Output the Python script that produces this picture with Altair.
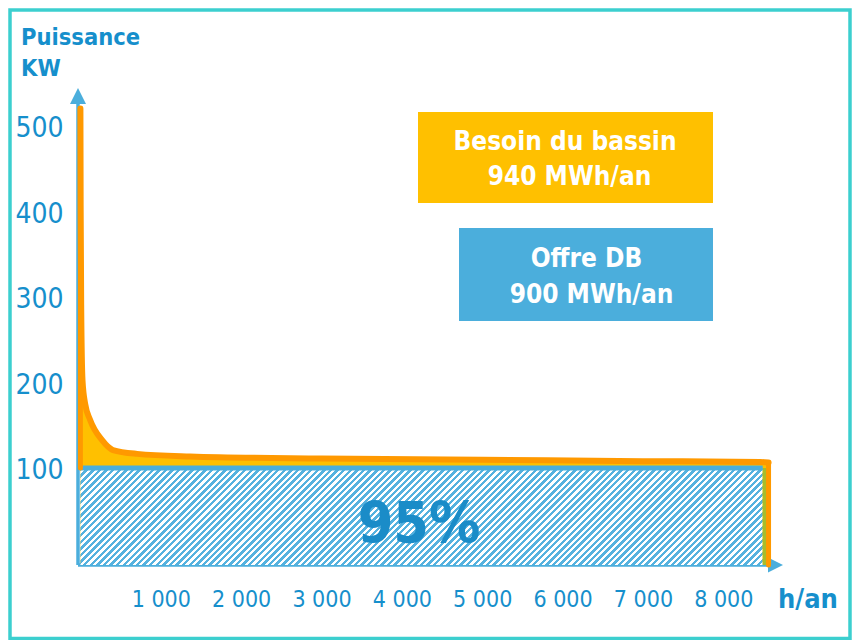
import altair as alt
import pandas as pd

# ---------------- data ----------------
hours = [0, 3, 10, 26, 60, 120, 270, 405, 705, 1364, 3000, 5000, 7000, 8460, 8563]
besoin_kw = [534, 420, 300, 216, 188, 170, 146, 134.5, 130, 127, 124.5, 123, 121.5, 120.5, 120]
offre_kw = 113.5
offre_fin_h = 8490
x_ticks = [1000, 2000, 3000, 4000, 5000, 6000, 7000, 8000]
y_ticks = [100, 200, 300, 400, 500]
y_title = ["Puissance", "KW"]
x_title = "h/an"
box_besoin = ["Besoin du bassin", "940 MWh/an"]
box_offre = ["Offre DB", "900 MWh/an"]
part_label = "95%"

# ---------------- styles ----------------
FONT = "DejaVu Sans Condensed"
BLUE = "#4BAEDC"
TXT_BLUE = "#168FCC"
ORANGE = "#FF9900"
YELLOW = "#FFC000"
GREEN = "#A8BD2A"
TEAL = "#3CCFCF"

W, H = 712, 477
x_dom = [-30, 8830]
y_dom = [0, 558]
kx = W / (x_dom[1] - x_dom[0])
ky = H / (y_dom[1] - y_dom[0])

xs = alt.Scale(domain=x_dom, nice=False, zero=False)
ys = alt.Scale(domain=y_dom, nice=False, zero=False)
x_axis = alt.Axis(values=x_ticks, domain=False, ticks=False, grid=False, title=None,
                  labelExpr="replace(format(datum.value, ',d'), ',', ' ')",
                  labelFont=FONT, labelFontSize=23, labelColor=TXT_BLUE, labelPadding=23)
y_axis = alt.Axis(values=y_ticks, domain=False, ticks=False, grid=False, title=None,
                  labelFont=FONT, labelFontSize=28, labelColor=TXT_BLUE, labelPadding=15,
                  labelOffset=-9)

curve_df = pd.DataFrame({"h": hours, "kw": besoin_kw})
edges_df = pd.DataFrame({
    "h": [hours[0], hours[-1]],
    "k0": [offre_kw, 0],
    "k1": [besoin_kw[0], besoin_kw[-1]],
})
offre_df = pd.DataFrame({"h0": [0], "h1": [offre_fin_h], "k0": [0], "k1": [offre_kw]})
vert_df = pd.DataFrame({"h0": [offre_fin_h], "h1": [hours[-1]], "k0": [0], "k1": [offre_kw]})
dummy = pd.DataFrame({"a": [0]})

# hatch as a striped linear gradient (45 degree stripes)
rw = offre_fin_h * kx
rh = offre_kw * ky
a = (rw + rh) / (rw ** 2 + rh ** 2)
n = int(round((rw + rh) / 6.6))
stops = []
for i in range(n):
    stops += [
        {"offset": round(i / n, 6), "color": "#55B2DF"},
        {"offset": round((i + 0.52) / n, 6), "color": "#55B2DF"},
        {"offset": round((i + 0.52) / n, 6), "color": "#FFFFFF"},
        {"offset": round((i + 1) / n, 6), "color": "#FFFFFF"},
    ]
hatch_fill = {"gradient": "linear", "x1": 0, "y1": 0, "x2": a * rw, "y2": a * rh, "stops": stops}

base = alt.Chart(dummy)

border = base.mark_rect(fill=None, stroke=TEAL, strokeWidth=3.5).encode(
    x=alt.value(-68), x2=alt.value(772), y=alt.value(-78), y2=alt.value(550.5))

area = alt.Chart(curve_df).mark_area(color=YELLOW, interpolate="monotone").encode(
    x=alt.X("h:Q", scale=xs, axis=x_axis),
    y=alt.Y("kw:Q", scale=ys, axis=y_axis))

y_line = base.mark_rule(color=BLUE, strokeWidth=3.5).encode(
    x=alt.value(0), y=alt.value(12), y2=alt.value(H))
y_arrow = base.mark_point(shape="M-1,1L0,-1L1,1Z", size=256, filled=True, opacity=1,
                          color=BLUE, strokeWidth=0).encode(x=alt.value(0), y=alt.value(8))
x_line = base.mark_rule(color=BLUE, strokeWidth=3.5).encode(
    x=alt.value(0), x2=alt.value(692), y=alt.value(H))
x_arrow = base.mark_point(shape="M-1,-1L1,0L-1,1Z", size=225, filled=True, opacity=1,
                          color=BLUE, strokeWidth=0).encode(x=alt.value(697.5), y=alt.value(H))

hatch = alt.Chart(offre_df).mark_rect(fill=hatch_fill).encode(
    x=alt.X("h0:Q", scale=xs, axis=x_axis), x2="h1:Q",
    y=alt.Y("k0:Q", scale=ys, axis=y_axis), y2="k1:Q")
green = alt.Chart(vert_df).mark_rect(color=GREEN).encode(
    x=alt.X("h0:Q", scale=xs, axis=x_axis), x2="h1:Q",
    y=alt.Y("k0:Q", scale=ys, axis=y_axis), y2="k1:Q")
offre_line = alt.Chart(offre_df).mark_rule(color=BLUE, strokeWidth=5).encode(
    x=alt.X("h0:Q", scale=xs, axis=x_axis), x2="h1:Q",
    y=alt.Y("k1:Q", scale=ys, axis=y_axis))
besoin_line = alt.Chart(curve_df).mark_line(color=ORANGE, strokeWidth=6, interpolate="monotone",
                                             strokeCap="round", strokeJoin="round").encode(
    x=alt.X("h:Q", scale=xs, axis=x_axis),
    y=alt.Y("kw:Q", scale=ys, axis=y_axis))
besoin_edges = alt.Chart(edges_df).mark_rule(color=ORANGE, strokeWidth=5, strokeCap="round").encode(
    x=alt.X("h:Q", scale=xs, axis=x_axis),
    y=alt.Y("k0:Q", scale=ys, axis=y_axis), y2="k1:Q")


def txt(s, x, y, size, color, align="center"):
    return base.mark_text(text=s, font=FONT, fontSize=size, fontWeight="bold", color=color,
                          align=align, baseline="alphabetic").encode(x=alt.value(x), y=alt.value(y))


box1 = base.mark_rect(color=YELLOW).encode(
    x=alt.value(340), x2=alt.value(635), y=alt.value(24), y2=alt.value(115))
box2 = base.mark_rect(color=BLUE).encode(
    x=alt.value(381), x2=alt.value(635), y=alt.value(140), y2=alt.value(233))

texts = [
    txt(y_title[0], -57, -43, 23.5, TXT_BLUE, "left"),
    txt(y_title[1], -57, -12, 23.5, TXT_BLUE, "left"),
    txt(x_title, 700, 520, 27, TXT_BLUE, "left"),
    txt(box_besoin[0], 487, 62, 26, "white"),
    txt(box_besoin[1], 491.5, 97, 26, "white"),
    txt(box_offre[0], 508.5, 179, 26, "white"),
    txt(box_offre[1], 513.5, 215, 26, "white"),
    txt(part_label, 341, 455, 57, "#1A8CC8"),
]

chart = alt.layer(
    border, area, y_line, y_arrow, x_line, x_arrow, hatch, green, offre_line,
    besoin_edges, besoin_line, box1, box2, *texts
).properties(
    width=W, height=H,
    autosize=alt.AutoSizeParams(type="none"),
    padding={"left": 70, "top": 80, "right": 62, "bottom": 75},
    background="white",
).configure_view(stroke=None)

chart.save("out.html", embed_options={"renderer": "svg", "actions": False})
